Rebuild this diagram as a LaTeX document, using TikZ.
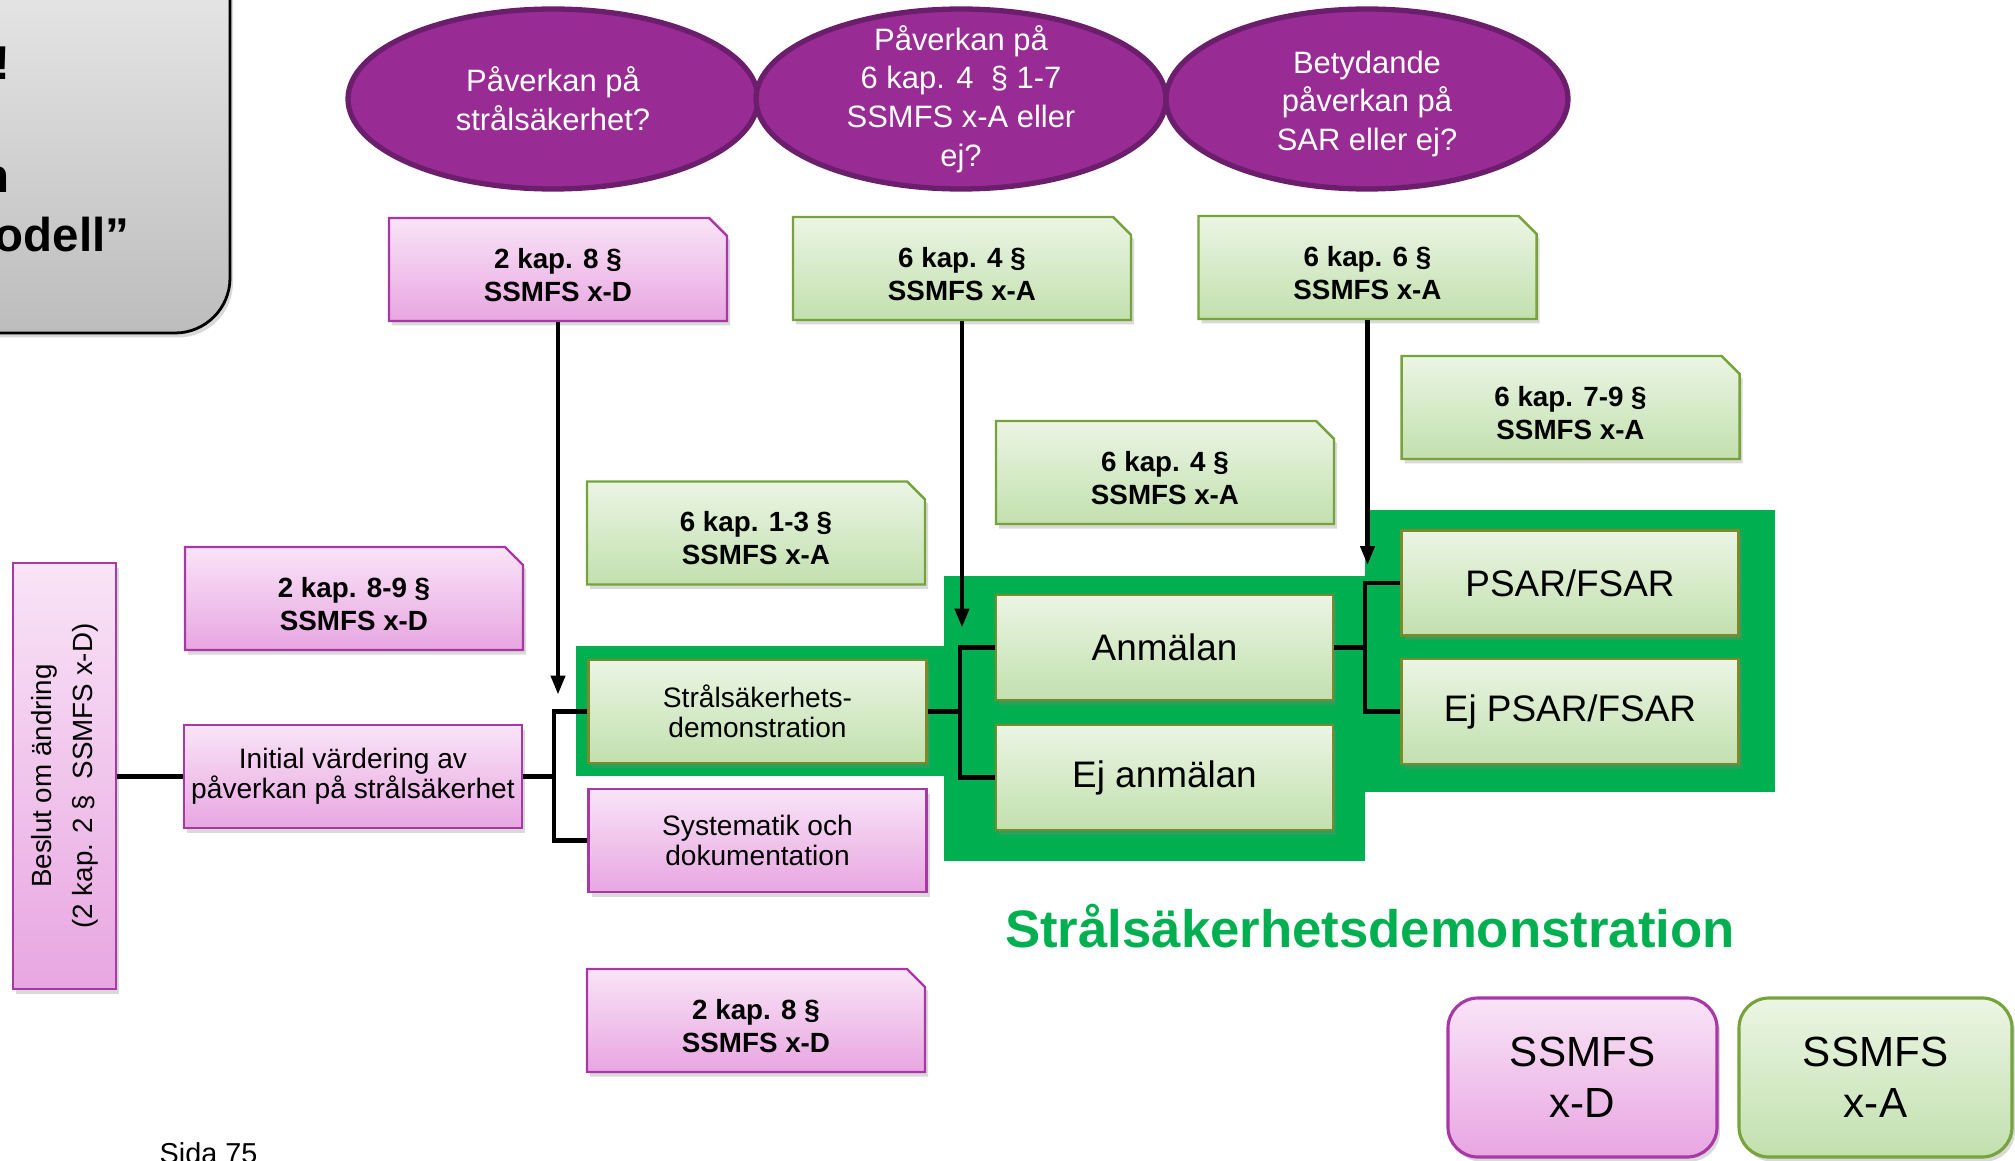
\documentclass[tikz,border=0pt]{standalone}
\usepackage{fontspec}
\setmainfont{Liberation Sans}
\usepackage{tikz}
\usetikzlibrary{calc}
\usetikzlibrary{arrows.meta,shapes.geometric,shapes.misc,shadows}
\definecolor{lila}{HTML}{982B94}
\definecolor{lilakant}{HTML}{6B1E6B}
\definecolor{rosaljus}{HTML}{F9E4F7}
\definecolor{rosamork}{HTML}{E8A6E1}
\definecolor{rosakant}{HTML}{A838A6}
\definecolor{gronljus}{HTML}{EBF5E4}
\definecolor{gronmork}{HTML}{C2E0AE}
\definecolor{gronkant}{HTML}{76A33A}
\definecolor{olivkant}{HTML}{7D8A2C}
\definecolor{ssmgron}{HTML}{00B050}
\newcommand{\hojd}{\rule{0pt}{8.8pt}}
\tikzset{
    skugga/.style={drop shadow={shadow xshift=0.03cm,shadow yshift=-0.045cm,opacity=0.3}},
    fraga/.style={ellipse,fill=lila,draw=lilakant,line width=1.5pt,
        minimum width=4.1cm,minimum height=1.8cm,inner sep=0pt},
    fragetext/.style={text=white,align=center,inner sep=0pt,font=\fontsize{8.8}{11}\selectfont},
    para/.style={chamfered rectangle,chamfered rectangle corners=north east,
        chamfered rectangle xsep=0.09cm,chamfered rectangle ysep=0.09cm,
        minimum width=3.38cm,minimum height=1.03cm,inner sep=0pt,align=center,line width=0.7pt,
        skugga,font=\bfseries\fontsize{7.9}{9.4}\selectfont},
    parD/.style={para,draw=rosakant,top color=rosaljus,bottom color=rosamork},
    parA/.style={para,draw=gronkant,top color=gronljus,bottom color=gronmork},
    ruta/.style={rectangle,minimum width=3.38cm,minimum height=1.03cm,inner sep=0pt,align=center,
        line width=0.7pt,skugga},
    rutaD/.style={ruta,draw=rosakant,top color=rosaljus,bottom color=rosamork,font=\fontsize{8}{8.6}\selectfont},
    rutaA/.style={ruta,draw=olivkant,top color=gronljus,bottom color=gronmork},
    ram/.style={rectangle,fill=ssmgron,inner sep=0pt},
    regel/.style={rectangle,rounded corners=0.3cm,minimum height=1.59cm,inner sep=0pt,align=center,
        line width=0.9pt,skugga,font=\fontsize{12}{14.5}\selectfont},
    linje/.style={line width=1.2pt},
    pil/.style={line width=1.2pt,-{Triangle[length=0.19cm,width=0.14cm]}},
}
\begin{document}
\begin{tikzpicture}
    \useasboundingbox (0,0) rectangle (20.15,-11.61);
    \clip (0,0) rectangle (20.15,-11.61);
    % rubrikruta (bara delvis synlig)
    \node[rectangle,rounded corners=0.55cm,draw=black,line width=0.8pt,top color=black!8,bottom color=black!26,
        minimum width=2.9cm,minimum height=3.93cm,skugga] (rubrik) at (0.85,-1.365) {};
    \begin{scope}[every node/.style={anchor=base east,inner sep=0pt,font=\bfseries\fontsize{13.5}{16}\selectfont}]
     \node (r1) at (0.11,-0.80) {!};
     \node (r2) at (0.10,-1.93) {n};
     \node (r3) at (1.30,-2.52) {odell”};
    \end{scope}
    %
    % gröna ramar
    \node[ram,minimum width=3.68cm,minimum height=1.30cm] (c1) at (7.60,-7.11) {};
    \node[ram,minimum width=4.21cm,minimum height=2.85cm] (c2) at (11.545,-7.185) {};
    \node[ram,minimum width=4.10cm,minimum height=2.82cm] (c3) at (15.70,-6.51) {};
    %
    % frågor
    \node[fraga] (f1) at (5.53,-0.99) {};
    \node[fraga] (f2) at (9.61,-0.99) {};
    \node[fraga,minimum width=4.02cm] (f3) at (13.67,-0.99) {};
    \node[fragetext] (f1t) at (f1) {Påverkan på\\strålsäkerhet?};
    \node[fragetext] (f2t) at (f2) {Påverkan på\\6 kap. 4\ \ § 1-7\\SSMFS x-A eller\\ej?};
    \node[fragetext] (f3t) at ([yshift=-0.05cm]f3.center) {Betydande\\påverkan på\\SAR eller ej?};
    %
    % paragrafer
    \node[parD] (k8a) at (5.58,-2.695) {\hojd 2 kap. 8 §\\SSMFS x-D};
    \node[parA] (k4a) at (9.62,-2.685) {\hojd 6 kap. 4 §\\SSMFS x-A};
    \node[parA] (k6) at (13.675,-2.675) {\hojd 6 kap. 6 §\\SSMFS x-A};
    \node[parA] (k79) at (15.705,-4.075) {\hojd 6 kap. 7-9 §\\SSMFS x-A};
    \node[parA] (k4b) at (11.65,-4.725) {\hojd 6 kap. 4 §\\SSMFS x-A};
    \node[parA] (k13) at (7.56,-5.33) {\hojd 6 kap. 1-3 §\\SSMFS x-A};
    \node[parD] (k89) at (3.54,-5.985) {\hojd 2 kap. 8-9 §\\SSMFS x-D};
    \node[parD] (k8b) at (7.56,-10.205) {\hojd 2 kap. 8 §\\SSMFS x-D};
    %
    % flödet
    \node[rutaD,rotate=90,minimum width=4.26cm,minimum height=1.03cm,font=\fontsize{7.9}{11.7}\selectfont]
        (beslut) at (0.645,-7.76) {Beslut om ändring\\(2 kap. 2 §\ \ SSMFS x-D)};
    \node[rutaD] (init) at (3.53,-7.765) {Initial värdering av\\påverkan på strålsäkerhet};
    \node[rutaA,font=\fontsize{8}{8.6}\selectfont] (stral) at (7.575,-7.115) {Strålsäkerhets-\\demonstration};
    \node[rutaD] (syst) at (7.575,-8.405) {Systematik och\\dokumentation};
    \begin{scope}[every node/.style={rutaA,minimum width=3.37cm,minimum height=1.05cm,font=\fontsize{10.5}{12}\selectfont}]
     \node (anm) at (11.645,-6.475) {Anmälan};
     \node (ejanm) at (11.645,-7.775) {Ej anmälan};
     \node (psar) at (15.70,-5.83) {PSAR/FSAR};
     \node (ejpsar) at (15.70,-7.115) {Ej PSAR/FSAR};
    \end{scope}
    %
    \coordinate (gA) at ($(stral.west)+(-0.33,0)$);
    \coordinate (gB) at ($(anm.west)+(-0.35,0)$);
    \coordinate (gC) at ($(psar.west)+(-0.35,0)$);
    \draw[linje] (init.west) -- (init.west -| beslut.south);
    \draw[linje] (init.east) -- (init.east -| gA);
    \draw[linje] (stral.west) -- (gA) |- (syst.west);
    \draw[linje] (stral.east) -- (stral.east -| gB);
    \draw[linje] (anm.west) -- (gB) |- (ejanm.west);
    \draw[linje] (anm.east) -- (anm.east -| gC);
    \draw[linje] (psar.west) -- (gC) |- (ejpsar.west);
    \draw[pil,shorten >=0.17cm] (k8a.south) -- (k8a.south |- gA);
    \draw[pil,shorten >=0.2cm] (k4a.south) -- (k4a.south |- gB);
    \draw[pil,shorten >=0.18cm] (k6.south) -- (k6.south |- gC);
    %
    \node[anchor=base,text=ssmgron,font=\bfseries\fontsize{15}{18}\selectfont] (titel) at (13.70,-9.47)
        {Strålsäkerhetsdemonstration};
    \node[regel,minimum width=2.69cm,draw=rosakant,top color=rosaljus,bottom color=rosamork] (xD) at (15.825,-10.775) {SSMFS\\x-D};
    \node[regel,minimum width=2.73cm,draw=gronkant,top color=gronljus,bottom color=gronmork] (xA) at (18.755,-10.775) {SSMFS\\x-A};
    \node[anchor=base west,inner sep=0pt,font=\fontsize{8.2}{10}\selectfont] (sida) at (1.59,-11.635) {Sida 75};
\end{tikzpicture}
\end{document}
